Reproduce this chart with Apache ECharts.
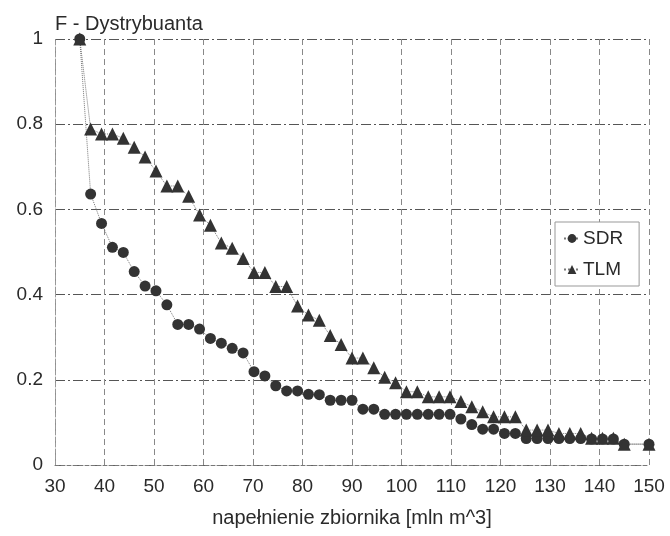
<!DOCTYPE html>
<html>
<head>
<meta charset="utf-8">
<script src="https://cdn.jsdelivr.net/npm/echarts@6/dist/echarts.min.js"></script>
<style>
  html, body { margin: 0; padding: 0; background: #fff; }
  #chart { width: 670px; height: 536px; }
</style>
</head>
<body>
<div id="chart"></div>
<script>
// napełnienie zbiornika [mln m^3]
const xValues = [35, 37.2, 39.4, 41.6, 43.8, 46, 48.2, 50.4, 52.6, 54.8, 57, 59.2, 61.4, 63.6, 65.8, 68,
  70.2, 72.4, 74.6, 76.8, 79, 81.2, 83.4, 85.6, 87.8, 90, 92.2, 94.4, 96.6, 98.8, 101, 103.2, 105.4,
  107.6, 109.8, 112, 114.2, 116.4, 118.6, 120.8, 123, 125.2, 127.4, 129.6, 131.8, 134, 136.2, 138.4,
  140.6, 142.8, 145, 150]

const sdrValues = [1.0, 0.636, 0.567, 0.511, 0.499, 0.454, 0.420, 0.409, 0.376, 0.330, 0.330, 0.319,
  0.297, 0.286, 0.274, 0.263, 0.219, 0.209, 0.186, 0.174, 0.174, 0.166, 0.165, 0.152, 0.152, 0.152,
  0.131, 0.131, 0.119, 0.119, 0.119, 0.119, 0.119, 0.119, 0.119, 0.108, 0.095, 0.084, 0.084, 0.074,
  0.074, 0.062, 0.062, 0.062, 0.062, 0.062, 0.062, 0.061, 0.061, 0.061, 0.049, 0.049]

const tlmValues = [1.0, 0.789, 0.777, 0.777, 0.767, 0.746, 0.723, 0.690, 0.655, 0.655, 0.631, 0.587,
  0.563, 0.521, 0.509, 0.485, 0.452, 0.452, 0.419, 0.419, 0.373, 0.352, 0.340, 0.304, 0.283, 0.251,
  0.251, 0.228, 0.206, 0.193, 0.172, 0.172, 0.160, 0.160, 0.160, 0.149, 0.137, 0.125, 0.113, 0.113,
  0.113, 0.082, 0.082, 0.082, 0.074, 0.074, 0.074, 0.063, 0.063, 0.063, 0.049, 0.049]

const pairs = (ys) => xValues.map((x, i) => [x, ys[i]])

let myEcharts = echarts.init(document.getElementById('chart'))
let textColor = '#2a2a2a'
let option = {
  animation: false,
  textStyle: { fontFamily: 'Liberation Sans, Arial, sans-serif', color: textColor },
  title: {
    text: 'F - Dystrybuanta',
    left: 50,
    top: 9,
    textStyle: { fontSize: 20, fontWeight: 'normal', color: textColor }
  },
  grid: { left: 55, right: 21, top: 39, bottom: 71, containLabel: false },
  legend: {
    orient: 'vertical',
    left: 555,
    top: 222,
    padding: [7, 16, 7, 8],
    itemGap: 12,
    itemWidth: 16,
    itemHeight: 11,
    backgroundColor: '#fff',
    borderColor: '#999',
    borderWidth: 1,
    textStyle: { fontSize: 19, color: textColor, padding: [0, 0, 0, -2] },
    data: ['SDR', 'TLM']
  },
  xAxis: {
    type: 'value',
    min: 30,
    max: 150,
    interval: 10,
    name: 'napełnienie zbiornika [mln m^3]',
    nameLocation: 'middle',
    nameGap: 43,
    nameTextStyle: { fontSize: 20, color: textColor },
    axisLine: { lineStyle: { color: '#777', type: 'dashed' } },
    axisTick: { show: false },
    axisLabel: { fontSize: 19, color: textColor, margin: 12 },
    splitLine: { show: true, lineStyle: { color: '#888', type: [6, 4], width: 1 } }
  },
  yAxis: {
    type: 'value',
    min: 0,
    max: 1,
    interval: 0.2,
    axisLine: { show: true, lineStyle: { color: '#999', type: 'dashed' } },
    axisTick: { show: false },
    axisLabel: { fontSize: 19, color: textColor, margin: 12 },
    splitLine: { show: true, lineStyle: { color: '#555', type: [10, 3, 2, 3], width: 1 } }
  },
  series: [
    {
      name: 'SDR',
      type: 'line',
      symbol: 'circle',
      symbolSize: 11,
      itemStyle: { color: '#333' },
      lineStyle: { color: '#777', width: 1, type: 'dotted' },
      data: pairs(sdrValues)
    },
    {
      name: 'TLM',
      type: 'line',
      symbol: 'triangle',
      symbolSize: 13,
      itemStyle: { color: '#333' },
      lineStyle: { color: '#777', width: 1, type: 'dotted' },
      data: pairs(tlmValues)
    }
  ]
}
myEcharts.setOption(option)
</script>
</body>
</html>
